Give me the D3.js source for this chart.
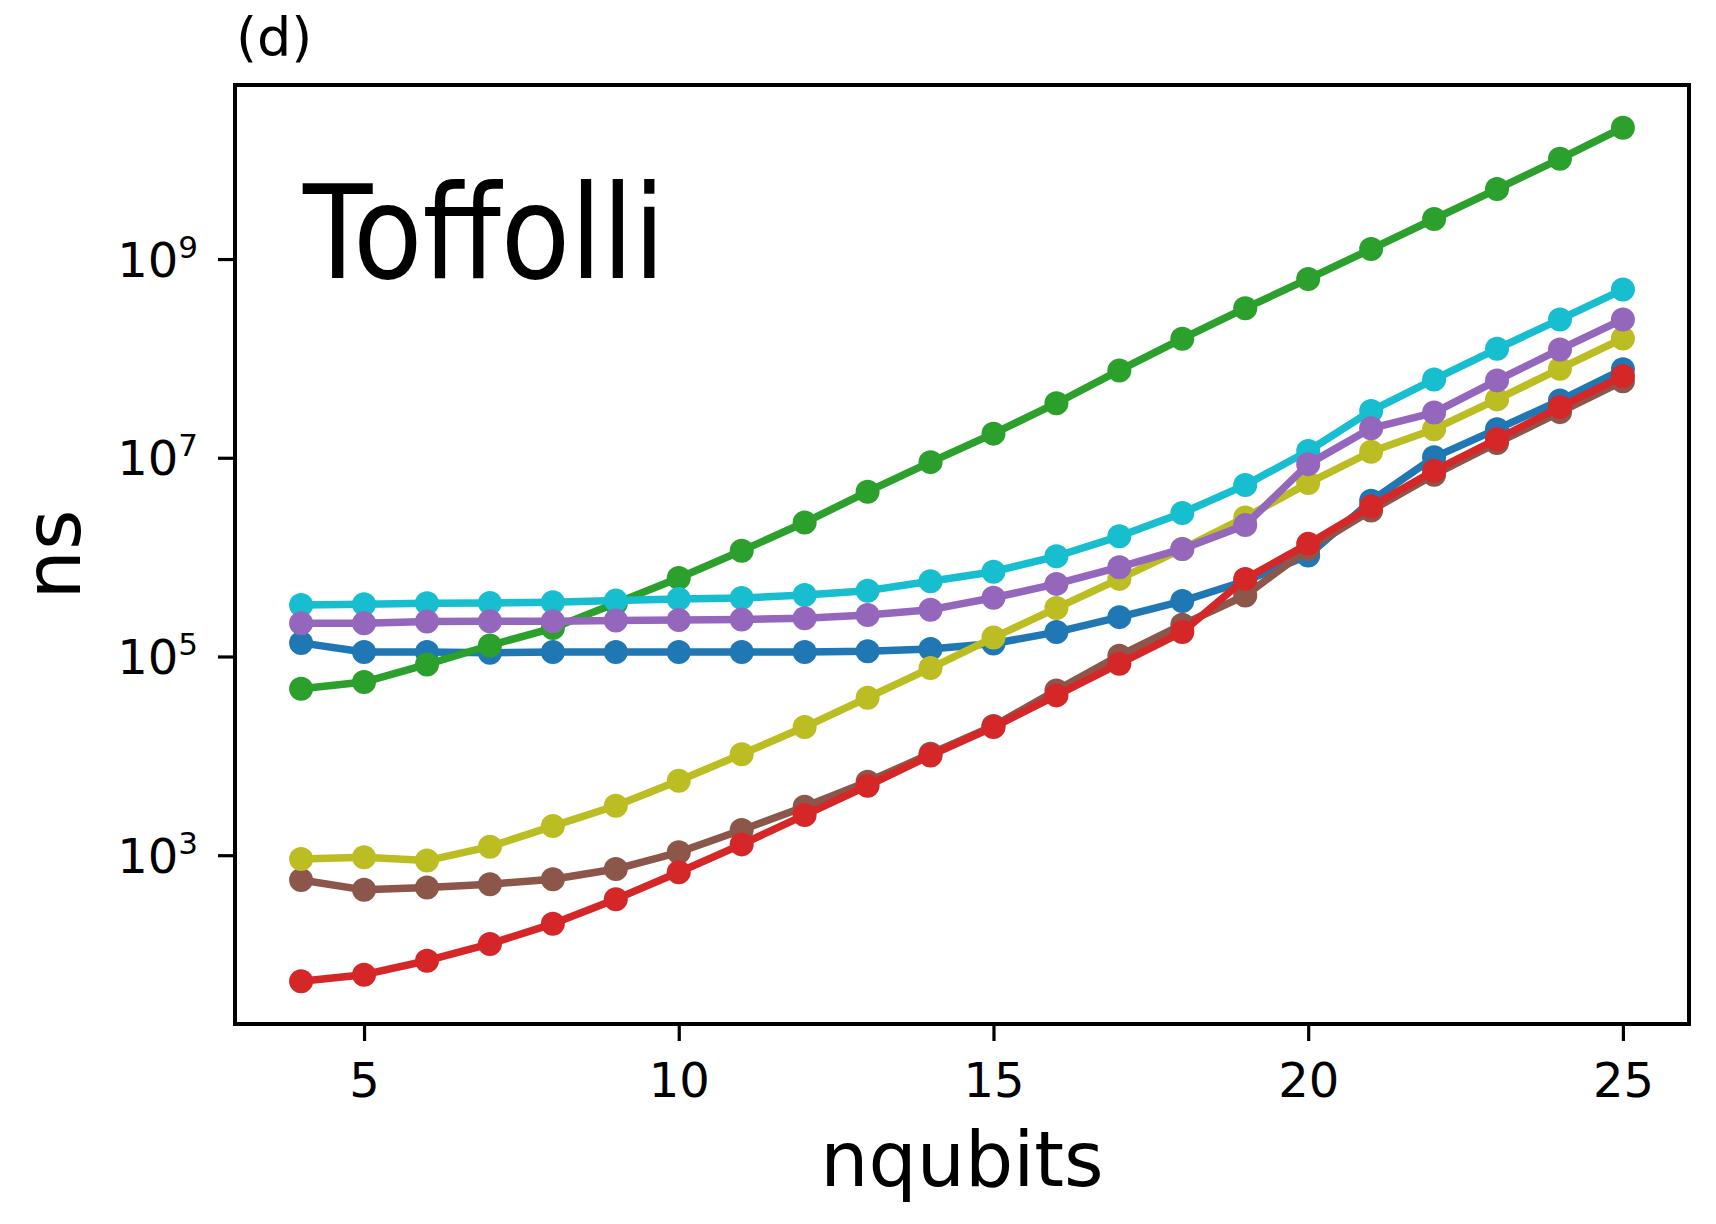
<!DOCTYPE html>
<html>
<head>
<meta charset="utf-8">
<script src="https://cdn.jsdelivr.net/npm/d3@7"></script>
<style>
  html, body { margin: 0; padding: 0; background: #fff; }
  svg { display: block; }
  text { font-family: "DejaVu Sans", sans-serif; }
</style>
</head>
<body>
<svg id="chart" width="1716" height="1224"></svg>
<script>
// ---- data (ns vs nqubits) ----
const nqubits = [4,5,6,7,8,9,10,11,12,13,14,15,16,17,18,19,20,21,22,23,24,25];

const blueSeries   = [1.37e5,1.11e5,1.11e5,1.09e5,1.11e5,1.11e5,1.11e5,1.11e5,1.11e5,1.13e5,1.19e5,1.35e5,1.76e5,2.49e5,3.61e5,5.75e5,1.04e6,3.69e6,1.01e7,1.94e7,3.78e7,7.76e7];
const greenSeries  = [4.74e4,5.53e4,8.32e4,1.29e5,1.93e5,3.44e5,6.17e5,1.16e6,2.23e6,4.56e6,9.04e6,1.75e7,3.54e7,7.57e7,1.58e8,3.20e8,6.31e8,1.26e9,2.53e9,5.06e9,1.02e10,2.10e10];
const brownSeries  = [564,448,473,511,573,726,1069,1791,3076,5483,1.05e4,2.0e4,4.56e4,1.02e5,2.09e5,4.11e5,1.21e6,2.95e6,6.76e6,1.41e7,2.88e7,5.89e7];
const redSeries    = [53.8,62.7,86.7,128,204,361,673,1285,2535,5000,1.01e4,1.95e4,4.06e4,8.47e4,1.76e5,6.04e5,1.36e6,3.24e6,7.40e6,1.54e7,3.24e7,6.64e7];
const oliveSeries  = [916,953,883,1219,1963,3148,5610,1.04e4,1.95e4,3.85e4,7.64e4,1.55e5,3.07e5,6.04e5,1.21e6,2.51e6,5.56e6,1.15e7,1.94e7,3.87e7,7.89e7,1.59e8];
const cyanSeries   = [3.30e5,3.36e5,3.44e5,3.46e5,3.52e5,3.65e5,3.79e5,3.88e5,4.16e5,4.60e5,5.71e5,7.13e5,1.02e6,1.62e6,2.78e6,5.31e6,1.17e7,2.96e7,6.15e7,1.25e8,2.47e8,4.93e8];
const purpleSeries = [2.16e5,2.16e5,2.25e5,2.26e5,2.26e5,2.30e5,2.33e5,2.36e5,2.43e5,2.62e5,2.96e5,3.90e5,5.38e5,7.93e5,1.21e6,2.10e6,8.63e6,1.98e7,2.85e7,6.01e7,1.23e8,2.47e8];

// draw order (later = on top)
const seriesList = [
  {values: blueSeries,   color: "#1f77b4"},
  {values: greenSeries,  color: "#2ca02c"},
  {values: brownSeries,  color: "#8c564b"},
  {values: redSeries,    color: "#d62728"},
  {values: oliveSeries,  color: "#bcbd22"},
  {values: cyanSeries,   color: "#17becf"},
  {values: purpleSeries, color: "#9467bd"}
];

const xTicks = [5,10,15,20,25];
const yTicks = [1e3,1e5,1e7,1e9];
const yTickExp = ["3","5","7","9"];

const panelLabel = "(d)";
const titleText = "Toffolli";
const xLabel = "nqubits";
const yLabel = "ns";

// ---- layout ----
const svg = d3.select("#chart");
const L = 235, R = 1689, T = 85, B = 1024;

// matplotlib-like 5% margins
const xmin = d3.min(nqubits), xmax = d3.max(nqubits);
const xm = (xmax - xmin) * 0.05;
const x = d3.scaleLinear().domain([xmin - xm, xmax + xm]).range([L, R]);

const allVals = seriesList.flatMap(s => s.values);
const lmin = Math.log10(d3.min(allVals)), lmax = Math.log10(d3.max(allVals));
const lm = (lmax - lmin) * 0.05;
const y = d3.scaleLog().domain([Math.pow(10, lmin - lm), Math.pow(10, lmax + lm)]).range([B, T]);

svg.append("rect").attr("x",0).attr("y",0).attr("width",1716).attr("height",1224).attr("fill","#fff");

// series
const line = d3.line().x((d,i) => x(nqubits[i])).y(d => y(d));
const plot = svg.append("g");
seriesList.forEach(s => {
  const g = plot.append("g");
  g.append("path").datum(s.values)
    .attr("d", line)
    .attr("fill","none")
    .attr("stroke", s.color)
    .attr("stroke-width", 7.5)
    .attr("stroke-linejoin","round")
    .attr("stroke-linecap","butt");
  g.selectAll("circle").data(s.values).join("circle")
    .attr("cx", (d,i) => x(nqubits[i]))
    .attr("cy", d => y(d))
    .attr("r", 12)
    .attr("fill", s.color);
});

// axes
const xAxis = d3.axisBottom(x).tickValues(xTicks).tickSize(17).tickFormat(d3.format("d"));
const gx = svg.append("g").attr("transform", `translate(0,${B})`).call(xAxis);
gx.select(".domain").remove();
gx.selectAll(".tick line").attr("stroke","#000").attr("stroke-width",3.2);
gx.selectAll(".tick text")
  .attr("y", 73).attr("dy", 0)
  .attr("font-size", 48).attr("fill","#000")
  .attr("font-family","DejaVu Sans");

const yAxis = d3.axisLeft(y).tickValues(yTicks).tickSize(17).tickFormat(() => "");
const gy = svg.append("g").attr("transform", `translate(${L},0)`).call(yAxis);
gy.select(".domain").remove();
gy.selectAll(".tick line").attr("stroke","#000").attr("stroke-width",3.2);
gy.selectAll(".tick text").each(function(d, i) {
  const t = d3.select(this);
  t.text(null)
    .attr("x", -37).attr("dy", 0).attr("y", 17)
    .attr("text-anchor","end")
    .attr("fill","#000")
    .attr("font-family","DejaVu Sans");
  t.append("tspan").attr("font-size", 48).text("10");
  t.append("tspan").attr("font-size", 31).attr("dy", -19).text(yTickExp[i]);
});

// frame
svg.append("rect")
  .attr("x", L).attr("y", T).attr("width", R - L).attr("height", B - T)
  .attr("fill","none").attr("stroke","#000").attr("stroke-width",4);

// texts
svg.append("text").attr("x", 236).attr("y", 56)
  .attr("font-size", 54).attr("fill","#000").text(panelLabel);

svg.append("text").attr("x", 303).attr("y", 278)
  .attr("font-size", 130).attr("font-weight", 400)
  .attr("textLength", 362).attr("lengthAdjust","spacingAndGlyphs")
  .attr("fill","#000").text(titleText);

svg.append("text").attr("x", (L + R) / 2).attr("y", 1186)
  .attr("text-anchor","middle").attr("font-size", 76).attr("fill","#000").text(xLabel);

svg.append("text")
  .attr("transform", `translate(80,${(T + B) / 2}) rotate(-90)`)
  .attr("text-anchor","middle").attr("font-size", 78).attr("fill","#000").text(yLabel);
</script>
</body>
</html>
